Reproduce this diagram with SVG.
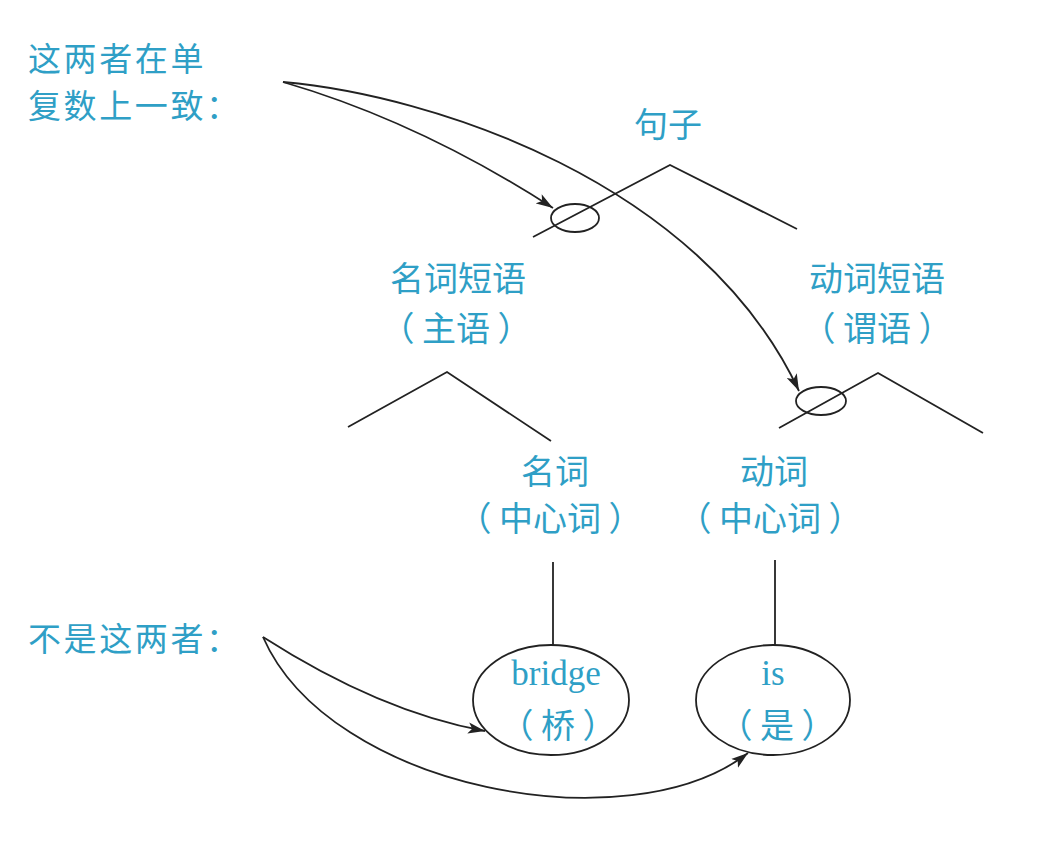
<svg xmlns="http://www.w3.org/2000/svg" width="1050" height="858" viewBox="0 0 1050 858">
<style>
.t{font-family:"Noto Sans CJK SC","Noto Sans",sans-serif;font-size:34px;fill:#2f9fc6}
.e{font-family:"Liberation Serif","Noto Sans CJK SC",serif;font-size:35px;fill:#2f9fc6}
.s{font-size:33px;letter-spacing:2.6px}
.ln{fill:none;stroke:#222;stroke-width:1.8}
.c{text-anchor:middle}
</style>
<defs>
<marker id="ah" markerUnits="userSpaceOnUse" markerWidth="20" markerHeight="12" refX="17" refY="6" orient="auto">
<path d="M0,0.5 L17,6 L0,11.5 L4,6 Z" fill="#222"/>
</marker>
</defs>
<rect width="1050" height="858" fill="#fff"/>
<g id="label-agree">
<text class="t s" x="28" y="71">这两者在单</text>
<text class="t s" x="28" y="118">复数上一致：</text>
</g>
<g id="label-not">
<text class="t s" x="28" y="651">不是这两者：</text>
</g>
<g id="sentence">
<text class="t c" x="668" y="137">句子</text>
<polyline class="ln" points="533,237 670,165 797,229"/>
<ellipse class="ln" cx="575" cy="218" rx="24" ry="14"/>
</g>
<g id="np">
<text class="t c" x="458" y="291">名词短语</text>
<text class="t c" x="456" y="341">（ 主语 ）</text>
<polyline class="ln" points="348,427 447,372 551,441"/>
</g>
<g id="vp">
<text class="t c" x="877" y="291">动词短语</text>
<text class="t c" x="877" y="341">（ 谓语 ）</text>
<polyline class="ln" points="779,428 878,373 983,433"/>
<ellipse class="ln" cx="821" cy="401" rx="25" ry="14"/>
</g>
<g id="noun">
<text class="t c" x="555" y="484">名词</text>
<text class="t c" x="550" y="531">（ 中心词 ）</text>
<line class="ln" x1="553" y1="562" x2="553" y2="645"/>
</g>
<g id="verb">
<text class="t c" x="774" y="484">动词</text>
<text class="t c" x="770" y="531">（ 中心词 ）</text>
<line class="ln" x1="775" y1="560" x2="775" y2="645"/>
</g>
<g id="bridge">
<ellipse class="ln" cx="551" cy="700" rx="78" ry="55"/>
<text class="e c" x="556" y="685">bridge</text>
<text class="t c" x="558" y="738">（ 桥 ）</text>
</g>
<g id="is">
<ellipse class="ln" cx="773" cy="700" rx="77" ry="55"/>
<text class="e c" x="773" y="685">is</text>
<text class="t c" x="777" y="738">（ 是 ）</text>
</g>
<g id="connectors">
<path class="ln" marker-end="url(#ah)" d="M283,82 Q420,122 553,208"/>
<path class="ln" marker-end="url(#ah)" d="M283,82 C430,95 700,180 799,391"/>
<path class="ln" marker-end="url(#ah)" d="M263,637 Q380,712 485,731"/>
<path class="ln" marker-end="url(#ah)" d="M263,637 C330,790 630,845 748,753"/>
</g>
</svg>
